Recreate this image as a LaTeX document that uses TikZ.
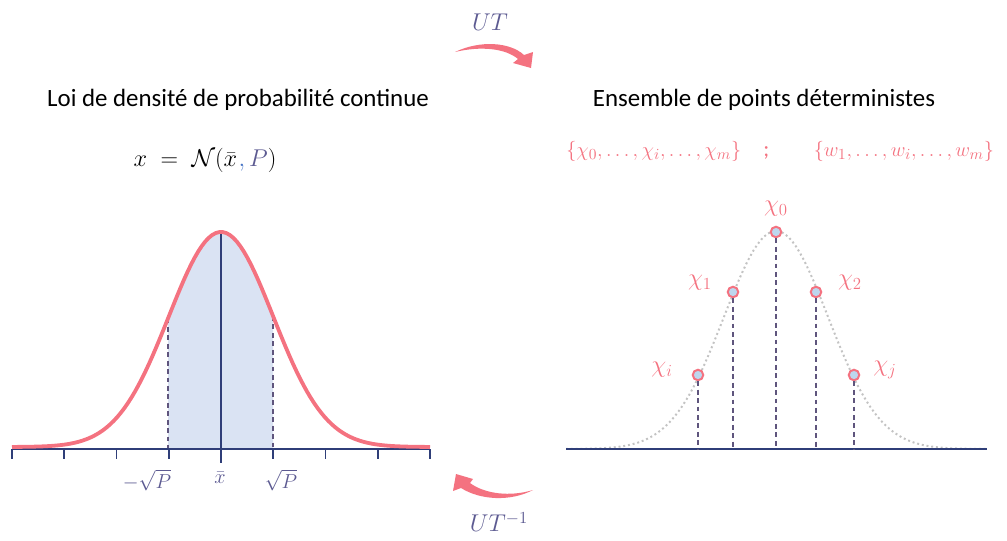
\documentclass[tikz,border=0pt]{standalone}
\usepackage{amsmath,amssymb}
\usepackage{fontspec}
\setmainfont{Carlito}
\usepackage{xcolor}
\usepackage{tikz}
\usetikzlibrary{calc}
\definecolor{inkpink}{RGB}{244,114,128}
\definecolor{inknavy}{RGB}{47,62,120}
\definecolor{inkmauve}{RGB}{92,90,145}
\definecolor{dashmauve}{RGB}{95,85,125}
\definecolor{fillsoft}{RGB}{218,227,243}
\definecolor{dotfill}{RGB}{189,215,238}
\definecolor{dotgray}{RGB}{195,195,195}
\definecolor{commablue}{RGB}{68,114,196}
\tikzset{
    ttl/.style   ={font=\fontsize{17.7}{20}\selectfont, inner sep=0pt},
    law/.style   ={font=\fontsize{17.5}{20}\selectfont, inner sep=0pt},
    setlbl/.style={font=\fontsize{15.8}{18}\selectfont, text=inkpink, inner sep=0pt},
    axlbl/.style ={font=\fontsize{15}{18}\selectfont, text=inkmauve, inner sep=0pt},
    chilbl/.style={font=\fontsize{17}{20}\selectfont, text=inkpink, inner sep=0pt},
    oplbl/.style ={font=\fontsize{18}{21}\selectfont, text=inkmauve, inner sep=0pt},
    axis/.style  ={draw=inknavy, line width=1.6pt},
    tick/.style  ={draw=inknavy, line width=1.4pt},
    dsh/.style   ={draw=dashmauve, dash pattern=on 3.5pt off 2.5pt, line width=0.9pt},
    bell/.style  ={draw=inkpink, line width=2.7pt},
    ghostbell/.style={draw=dotgray, dotted, line width=1.4pt},
    pt/.style    ={circle, draw=inkpink, fill=dotfill, line width=1.4pt,
                   minimum size=7.5pt, inner sep=0pt},
    swoop/.style ={fill=inkpink, draw=none}
}
\newcommand{\gauss}[1]{447-215*exp(-((#1-221)/52.25)^2/2)}
\newcommand{\ghost}[1]{449-218*exp(-((#1-776)/52)^2/2)}

\begin{document}
\begin{tikzpicture}[x=0.025cm, y=-0.025cm]
  \useasboundingbox (0,0) rectangle (1007,540);

  % titles
  \node[ttl] (ttlL) at (238,100) {Loi de densité de probabilité continue};
  \node[ttl] (ttlR) at (764,100) {Ensemble de points déterministes};
  \node[law] (lawL) at (205,160)
       {$x\;=\;\mathcal{N}(\bar{x}\kern1pt\textcolor{commablue}{,}\,\textcolor{inkmauve}{P})$};
  \node[setlbl, anchor=west] (setR) at (566,151)
       {$\{\chi_0, \dots, \chi_i, \dots, \chi_m\}$\quad;\qquad$\{w_1, \dots, w_i, \dots, w_m\}$};

  % continuous density
  \coordinate (axL0) at (12,449);
  \coordinate (axL1) at (430,449);
  \fill[fillsoft] (168,449) -- plot[domain=168:273, samples=40] (\x, {\gauss{\x}}) -- (273,449) -- cycle;
  \draw[dsh] (168,{\gauss{168}}) -- (168,449);
  \draw[dsh] (273,{\gauss{273}}) -- (273,449);
  \draw[axis] (axL0) -- (axL1);
  \foreach \k in {0,...,8}
    \draw[tick] ({12+52.25*\k},449) -- ++(0,10);
  \draw[axis] (221,232) -- (221,463);
  \draw[bell] plot[domain=12:430, samples=120] (\x, {\gauss{\x}});
  \node[axlbl] (lo)  at (147,480) {$-\sqrt{P}$};
  \node[axlbl] (mu)  at (220,478) {$\bar{x}$};
  \node[axlbl] (hi)  at (281,480) {$\sqrt{P}$};

  % sigma points
  \coordinate (axR0) at (566,449);
  \coordinate (axR1) at (987,449);
  \draw[ghostbell] plot[domain=566:987, samples=120] (\x, {\ghost{\x}});
  \draw[axis] (axR0) -- (axR1);
  \node[pt] (p0) at (776,232) {};
  \node[pt] (p1) at (733,292) {};
  \node[pt] (p2) at (816,292) {};
  \node[pt] (pi) at (698,375) {};
  \node[pt] (pj) at (854,375) {};
  \foreach \p in {p0,p1,p2,pi,pj}
    \draw[dsh] (\p.south) -- (\p |- axR0);
  \node[chilbl] (l0) at (776,209) {$\chi_0$};
  \node[chilbl] (l1) at (700,283) {$\chi_1$};
  \node[chilbl] (l2) at (850,283) {$\chi_2$};
  \node[chilbl] (li) at (662,370) {$\chi_i$};
  \node[chilbl] (lj) at (885,370) {$\chi_j$};

  % UT and its inverse
  \node[oplbl] (ut)  at (490,22)  {$UT$};
  \node[oplbl] (uti) at (499,522) {$UT^{-1}$};
  \fill[swoop] (455,52) .. controls (480,40) and (510,42) .. (524,55)
        -- (533,52) -- (531,68) -- (513,63) -- (518,59)
        .. controls (505,48) and (480,46) .. (455,52) -- cycle;
  \fill[swoop] (533,490) .. controls (510,497) and (485,494) .. (470,483)
        -- (473,479) -- (456,474) -- (453,491) -- (461,488)
        .. controls (480,500) and (510,502) .. (533,490) -- cycle;
\end{tikzpicture}
\end{document}
